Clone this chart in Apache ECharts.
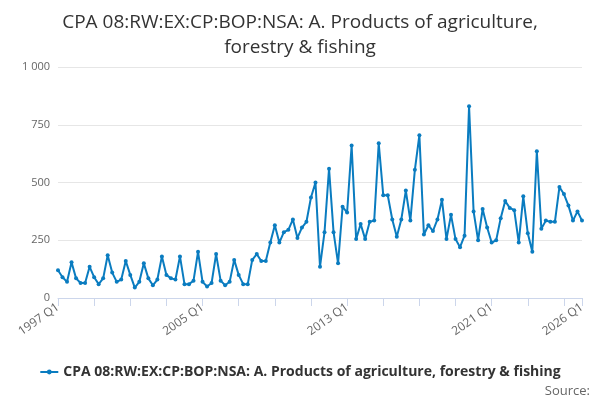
<!DOCTYPE html>
<html><head><meta charset="utf-8">
<script src="https://cdn.jsdelivr.net/npm/echarts@6/dist/echarts.min.js"></script>
<style>html,body{margin:0;padding:0;background:#fff}#c{width:600px;height:400px}</style>
</head><body><div id="c"></div>
<script>
const startYear = 1997;
const values = [
120,90,70,155, 85,65,65,135, 90,60,85,185, 110,70,80,160, 100,45,70,150,
85,55,80,180, 100,85,80,180, 60,60,75,200, 70,50,65,190, 75,55,70,165,
100,60,60,165, 190,160,160,240, 315,240,285,295, 340,260,305,330, 435,500,135,285,
560,285,150,395, 370,660,255,320, 255,330,335,670, 445,445,340,265, 340,465,335,555,
705,275,315,290, 340,425,255,360, 255,220,270,830, 375,250,385,305, 240,250,345,420,
390,380,240,440, 280,200,635,300, 335,330,330,480, 450,400,335,375, 335
];
const categories = values.map((v,i)=> (startYear+Math.floor(i/4)) + ' Q' + (i%4+1));
const seriesName = 'CPA 08:RW:EX:CP:BOP:NSA: A. Products of agriculture, forestry & fishing';
const last = categories.length-1;
const chart = echarts.init(document.getElementById('c'));
chart.setOption({
  animation:false,
  title:{text:'CPA 08:RW:EX:CP:BOP:NSA: A. Products of agriculture,\nforestry & fishing',left:'center',top:5,
    textStyle:{fontFamily:'Open Sans',fontSize:19,fontWeight:'normal',color:'#333',lineHeight:25}},
  grid:{left:58,right:18,top:67,bottom:102,containLabel:false},
  legend:{bottom:16,left:'center',itemWidth:18,itemHeight:6,
    textStyle:{fontFamily:'Open Sans',fontSize:14,fontWeight:'bold',color:'#333'}},
  graphic:[{type:'text',right:10,bottom:2,style:{text:'Source:',fontFamily:'Open Sans',fontSize:13,fill:'#666'}}],
  xAxis:{type:'category',data:categories,boundaryGap:false,
    axisLine:{lineStyle:{color:'#ccd6eb'}},
    axisTick:{alignWithLabel:true,length:8,lineStyle:{color:'#ccd6eb'},interval:(i)=>i%8===0||i===last},
    axisLabel:{rotate:35,color:'#666',fontFamily:'Open Sans',fontSize:12,interval:(i)=>i%32===0||i===last,hideOverlap:false},
    splitLine:{show:false}},
  yAxis:{type:'value',min:0,max:1000,interval:250,
    axisLabel:{color:'#666',fontFamily:'Open Sans',fontSize:11,formatter:v=>v>=1000?String(v).replace(/\B(?=(\d{3})+$)/g,' '):v},
    splitLine:{lineStyle:{color:'#e6e6e6'}},axisLine:{show:false},axisTick:{show:false}},
  series:[{name:seriesName,type:'line',data:values,symbol:'circle',symbolSize:4,showSymbol:true,showAllSymbol:true,
    itemStyle:{color:'#0a7cc0'},lineStyle:{width:2,color:'#0a7cc0'}}]
});
</script></body></html>
